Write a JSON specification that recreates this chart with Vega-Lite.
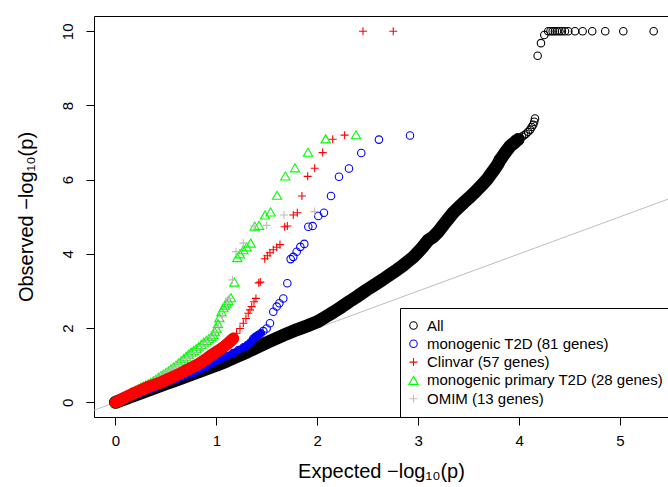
{
"$schema": "https://vega.github.io/schema/vega-lite/v6.json",
"width": 574, "height": 401,
"autosize": {"type": "none"},
"padding": {"left": 94, "top": 16, "right": 0, "bottom": 70},
"background": "white",
"data": {"values": [
{"set":"All","x":0,"y":0},{"set":"All","x":0.05,"y":0.05},{"set":"All","x":0.1,"y":0.1},{"set":"All","x":0.15,"y":0.15},{"set":"All","x":0.2,"y":0.2},{"set":"All","x":0.3,"y":0.3},{"set":"All","x":0.4,"y":0.4},{"set":"All","x":0.5,"y":0.5},{"set":"All","x":0.6,"y":0.6},{"set":"All","x":0.7,"y":0.7},{"set":"All","x":0.8,"y":0.8},{"set":"All","x":0.9,"y":0.9},{"set":"All","x":1.0,"y":1.0},{"set":"All","x":1.1,"y":1.11},{"set":"All","x":1.2,"y":1.23},{"set":"All","x":1.3,"y":1.35},{"set":"All","x":1.4,"y":1.48},{"set":"All","x":1.5,"y":1.61},{"set":"All","x":1.6,"y":1.73},{"set":"All","x":1.7,"y":1.85},{"set":"All","x":1.8,"y":1.96},{"set":"All","x":1.9,"y":2.06},{"set":"All","x":2.0,"y":2.17},{"set":"All","x":2.08,"y":2.3},{"set":"All","x":2.16,"y":2.43},{"set":"All","x":2.24,"y":2.57},{"set":"All","x":2.32,"y":2.72},{"set":"All","x":2.4,"y":2.86},{"set":"All","x":2.49,"y":3.03},{"set":"All","x":2.57,"y":3.17},{"set":"All","x":2.65,"y":3.31},{"set":"All","x":2.72,"y":3.44},{"set":"All","x":2.79,"y":3.57},{"set":"All","x":2.85,"y":3.69},{"set":"All","x":2.9,"y":3.8},{"set":"All","x":2.95,"y":3.91},{"set":"All","x":2.99,"y":4.02},{"set":"All","x":3.04,"y":4.17},{"set":"All","x":3.1,"y":4.37},{"set":"All","x":3.15,"y":4.46},{"set":"All","x":3.2,"y":4.6},{"set":"All","x":3.25,"y":4.78},{"set":"All","x":3.3,"y":4.95},{"set":"All","x":3.35,"y":5.12},{"set":"All","x":3.4,"y":5.25},{"set":"All","x":3.45,"y":5.38},{"set":"All","x":3.5,"y":5.5},{"set":"All","x":3.55,"y":5.63},{"set":"All","x":3.6,"y":5.77},{"set":"All","x":3.64,"y":5.88},{"set":"All","x":3.68,"y":6.0},{"set":"All","x":3.72,"y":6.15},{"set":"All","x":3.76,"y":6.3},{"set":"All","x":3.79,"y":6.42},{"set":"All","x":3.81,"y":6.53},{"set":"All","x":3.83,"y":6.6},{"set":"All","x":3.85,"y":6.68},{"set":"All","x":3.87,"y":6.76},{"set":"All","x":3.89,"y":6.83},{"set":"All","x":3.91,"y":6.9},{"set":"All","x":3.93,"y":6.95},{"set":"All","x":3.95,"y":6.99},{"set":"All","x":3.97,"y":7.04},{"set":"All","x":3.99,"y":7.08},{"set":"All","x":4.01,"y":7.12},{"set":"All","x":4.03,"y":7.16},{"set":"All","x":4.05,"y":7.2},{"set":"All","x":4.07,"y":7.24},{"set":"All","x":4.09,"y":7.29},{"set":"All","x":4.11,"y":7.35},{"set":"All","x":4.125,"y":7.42},{"set":"All","x":4.14,"y":7.48},{"set":"All","x":4.15,"y":7.56},{"set":"All","x":4.158,"y":7.65},
{"set":"All","x":4.184,"y":9.34},{"set":"All","x":4.217,"y":9.68},{"set":"All","x":4.25,"y":9.9},{"set":"All","x":4.289,"y":10},{"set":"All","x":4.311,"y":10},{"set":"All","x":4.333,"y":10},{"set":"All","x":4.355,"y":10},{"set":"All","x":4.376,"y":10},{"set":"All","x":4.4,"y":10},{"set":"All","x":4.425,"y":10},{"set":"All","x":4.455,"y":10},{"set":"All","x":4.488,"y":10},{"set":"All","x":4.554,"y":10},{"set":"All","x":4.63,"y":10},{"set":"All","x":4.725,"y":10},{"set":"All","x":4.854,"y":10},{"set":"All","x":5.033,"y":10},{"set":"All","x":5.334,"y":10},
{"set":"monogenic T2D (81 genes)","x":0,"y":0},{"set":"monogenic T2D (81 genes)","x":0.05,"y":0.05},{"set":"monogenic T2D (81 genes)","x":0.1,"y":0.1},{"set":"monogenic T2D (81 genes)","x":0.15,"y":0.15},{"set":"monogenic T2D (81 genes)","x":0.2,"y":0.2},{"set":"monogenic T2D (81 genes)","x":0.25,"y":0.26},{"set":"monogenic T2D (81 genes)","x":0.3,"y":0.31},{"set":"monogenic T2D (81 genes)","x":0.35,"y":0.36},{"set":"monogenic T2D (81 genes)","x":0.41,"y":0.43},{"set":"monogenic T2D (81 genes)","x":0.47,"y":0.49},{"set":"monogenic T2D (81 genes)","x":0.53,"y":0.55},{"set":"monogenic T2D (81 genes)","x":0.6,"y":0.62},{"set":"monogenic T2D (81 genes)","x":0.66,"y":0.69},{"set":"monogenic T2D (81 genes)","x":0.72,"y":0.75},{"set":"monogenic T2D (81 genes)","x":0.78,"y":0.8},{"set":"monogenic T2D (81 genes)","x":0.84,"y":0.87},{"set":"monogenic T2D (81 genes)","x":0.9,"y":0.96},{"set":"monogenic T2D (81 genes)","x":0.95,"y":1.04},{"set":"monogenic T2D (81 genes)","x":1.0,"y":1.12},{"set":"monogenic T2D (81 genes)","x":1.05,"y":1.18},{"set":"monogenic T2D (81 genes)","x":1.1,"y":1.24},{"set":"monogenic T2D (81 genes)","x":1.167,"y":1.33},{"set":"monogenic T2D (81 genes)","x":1.22,"y":1.41},{"set":"monogenic T2D (81 genes)","x":1.27,"y":1.48},{"set":"monogenic T2D (81 genes)","x":1.31,"y":1.55},{"set":"monogenic T2D (81 genes)","x":1.34,"y":1.62},{"set":"monogenic T2D (81 genes)","x":1.366,"y":1.72},{"set":"monogenic T2D (81 genes)","x":1.39,"y":1.77},{"set":"monogenic T2D (81 genes)","x":1.415,"y":1.81},{"set":"monogenic T2D (81 genes)","x":1.44,"y":1.86},{"set":"monogenic T2D (81 genes)","x":1.465,"y":1.92},{"set":"monogenic T2D (81 genes)","x":1.498,"y":1.99},{"set":"monogenic T2D (81 genes)","x":1.531,"y":2.13},{"set":"monogenic T2D (81 genes)","x":1.564,"y":2.44},{"set":"monogenic T2D (81 genes)","x":1.598,"y":2.58},{"set":"monogenic T2D (81 genes)","x":1.624,"y":2.67},{"set":"monogenic T2D (81 genes)","x":1.663,"y":2.8},{"set":"monogenic T2D (81 genes)","x":1.703,"y":3.21},{"set":"monogenic T2D (81 genes)","x":1.736,"y":3.86},{"set":"monogenic T2D (81 genes)","x":1.762,"y":3.92},{"set":"monogenic T2D (81 genes)","x":1.796,"y":4.06},{"set":"monogenic T2D (81 genes)","x":1.832,"y":4.19},{"set":"monogenic T2D (81 genes)","x":1.871,"y":4.27},{"set":"monogenic T2D (81 genes)","x":1.911,"y":4.73},{"set":"monogenic T2D (81 genes)","x":1.954,"y":4.75},{"set":"monogenic T2D (81 genes)","x":2.01,"y":5.02},{"set":"monogenic T2D (81 genes)","x":2.066,"y":5.11},{"set":"monogenic T2D (81 genes)","x":2.136,"y":5.56},{"set":"monogenic T2D (81 genes)","x":2.215,"y":6.08},{"set":"monogenic T2D (81 genes)","x":2.314,"y":6.3},{"set":"monogenic T2D (81 genes)","x":2.436,"y":6.72},{"set":"monogenic T2D (81 genes)","x":2.611,"y":7.08},{"set":"monogenic T2D (81 genes)","x":2.919,"y":7.19},
{"set":"monogenic primary T2D (28 genes)","x":0,"y":0},{"set":"monogenic primary T2D (28 genes)","x":0.025,"y":0.04},{"set":"monogenic primary T2D (28 genes)","x":0.05,"y":0.08},{"set":"monogenic primary T2D (28 genes)","x":0.075,"y":0.12},{"set":"monogenic primary T2D (28 genes)","x":0.1,"y":0.16},{"set":"monogenic primary T2D (28 genes)","x":0.125,"y":0.2},{"set":"monogenic primary T2D (28 genes)","x":0.15,"y":0.24},{"set":"monogenic primary T2D (28 genes)","x":0.175,"y":0.28},{"set":"monogenic primary T2D (28 genes)","x":0.2,"y":0.32},{"set":"monogenic primary T2D (28 genes)","x":0.225,"y":0.36},{"set":"monogenic primary T2D (28 genes)","x":0.25,"y":0.4},{"set":"monogenic primary T2D (28 genes)","x":0.275,"y":0.44},{"set":"monogenic primary T2D (28 genes)","x":0.3,"y":0.47},{"set":"monogenic primary T2D (28 genes)","x":0.325,"y":0.5},{"set":"monogenic primary T2D (28 genes)","x":0.35,"y":0.54},{"set":"monogenic primary T2D (28 genes)","x":0.375,"y":0.58},{"set":"monogenic primary T2D (28 genes)","x":0.4,"y":0.62},{"set":"monogenic primary T2D (28 genes)","x":0.425,"y":0.67},{"set":"monogenic primary T2D (28 genes)","x":0.45,"y":0.72},{"set":"monogenic primary T2D (28 genes)","x":0.475,"y":0.76},{"set":"monogenic primary T2D (28 genes)","x":0.5,"y":0.8},{"set":"monogenic primary T2D (28 genes)","x":0.525,"y":0.85},{"set":"monogenic primary T2D (28 genes)","x":0.55,"y":0.9},{"set":"monogenic primary T2D (28 genes)","x":0.575,"y":0.95},{"set":"monogenic primary T2D (28 genes)","x":0.6,"y":1.0},{"set":"monogenic primary T2D (28 genes)","x":0.625,"y":1.06},{"set":"monogenic primary T2D (28 genes)","x":0.65,"y":1.12},{"set":"monogenic primary T2D (28 genes)","x":0.675,"y":1.18},{"set":"monogenic primary T2D (28 genes)","x":0.7,"y":1.24},{"set":"monogenic primary T2D (28 genes)","x":0.725,"y":1.3},{"set":"monogenic primary T2D (28 genes)","x":0.75,"y":1.35},{"set":"monogenic primary T2D (28 genes)","x":0.775,"y":1.4},{"set":"monogenic primary T2D (28 genes)","x":0.8,"y":1.45},{"set":"monogenic primary T2D (28 genes)","x":0.825,"y":1.5},{"set":"monogenic primary T2D (28 genes)","x":0.85,"y":1.56},{"set":"monogenic primary T2D (28 genes)","x":0.875,"y":1.62},{"set":"monogenic primary T2D (28 genes)","x":0.9,"y":1.67},{"set":"monogenic primary T2D (28 genes)","x":0.925,"y":1.72},{"set":"monogenic primary T2D (28 genes)","x":0.95,"y":1.77},{"set":"monogenic primary T2D (28 genes)","x":0.97,"y":1.82},{"set":"monogenic primary T2D (28 genes)","x":0.985,"y":1.9},{"set":"monogenic primary T2D (28 genes)","x":1.0,"y":2.0},{"set":"monogenic primary T2D (28 genes)","x":1.015,"y":2.12},{"set":"monogenic primary T2D (28 genes)","x":1.03,"y":2.28},{"set":"monogenic primary T2D (28 genes)","x":1.05,"y":2.44},{"set":"monogenic primary T2D (28 genes)","x":1.07,"y":2.55},{"set":"monogenic primary T2D (28 genes)","x":1.085,"y":2.62},{"set":"monogenic primary T2D (28 genes)","x":1.1,"y":2.68},{"set":"monogenic primary T2D (28 genes)","x":1.118,"y":2.74},{"set":"monogenic primary T2D (28 genes)","x":1.145,"y":2.82},{"set":"monogenic primary T2D (28 genes)","x":1.178,"y":3.24},{"set":"monogenic primary T2D (28 genes)","x":1.207,"y":3.9},{"set":"monogenic primary T2D (28 genes)","x":1.234,"y":4.0},{"set":"monogenic primary T2D (28 genes)","x":1.267,"y":4.11},{"set":"monogenic primary T2D (28 genes)","x":1.3,"y":4.19},{"set":"monogenic primary T2D (28 genes)","x":1.34,"y":4.29},{"set":"monogenic primary T2D (28 genes)","x":1.38,"y":4.75},{"set":"monogenic primary T2D (28 genes)","x":1.422,"y":4.77},{"set":"monogenic primary T2D (28 genes)","x":1.482,"y":5.05},{"set":"monogenic primary T2D (28 genes)","x":1.538,"y":5.13},{"set":"monogenic primary T2D (28 genes)","x":1.601,"y":5.58},{"set":"monogenic primary T2D (28 genes)","x":1.683,"y":6.1},{"set":"monogenic primary T2D (28 genes)","x":1.779,"y":6.32},{"set":"monogenic primary T2D (28 genes)","x":1.908,"y":6.74},{"set":"monogenic primary T2D (28 genes)","x":2.083,"y":7.1},{"set":"monogenic primary T2D (28 genes)","x":2.384,"y":7.21},
{"set":"OMIM (13 genes)","x":0,"y":0},{"set":"OMIM (13 genes)","x":0.03,"y":0.04},{"set":"OMIM (13 genes)","x":0.06,"y":0.08},{"set":"OMIM (13 genes)","x":0.09,"y":0.12},{"set":"OMIM (13 genes)","x":0.12,"y":0.17},{"set":"OMIM (13 genes)","x":0.15,"y":0.21},{"set":"OMIM (13 genes)","x":0.18,"y":0.26},{"set":"OMIM (13 genes)","x":0.21,"y":0.3},{"set":"OMIM (13 genes)","x":0.24,"y":0.35},{"set":"OMIM (13 genes)","x":0.27,"y":0.4},{"set":"OMIM (13 genes)","x":0.3,"y":0.44},{"set":"OMIM (13 genes)","x":0.33,"y":0.49},{"set":"OMIM (13 genes)","x":0.36,"y":0.54},{"set":"OMIM (13 genes)","x":0.39,"y":0.6},{"set":"OMIM (13 genes)","x":0.42,"y":0.65},{"set":"OMIM (13 genes)","x":0.45,"y":0.7},{"set":"OMIM (13 genes)","x":0.48,"y":0.75},{"set":"OMIM (13 genes)","x":0.51,"y":0.81},{"set":"OMIM (13 genes)","x":0.54,"y":0.87},{"set":"OMIM (13 genes)","x":0.57,"y":0.92},{"set":"OMIM (13 genes)","x":0.6,"y":0.98},{"set":"OMIM (13 genes)","x":0.63,"y":1.04},{"set":"OMIM (13 genes)","x":0.66,"y":1.1},{"set":"OMIM (13 genes)","x":0.7,"y":1.17},{"set":"OMIM (13 genes)","x":0.74,"y":1.25},{"set":"OMIM (13 genes)","x":0.78,"y":1.33},{"set":"OMIM (13 genes)","x":0.82,"y":1.42},{"set":"OMIM (13 genes)","x":0.86,"y":1.52},{"set":"OMIM (13 genes)","x":0.9,"y":1.62},{"set":"OMIM (13 genes)","x":0.94,"y":1.76},{"set":"OMIM (13 genes)","x":0.98,"y":1.9},{"set":"OMIM (13 genes)","x":1.02,"y":2.05},{"set":"OMIM (13 genes)","x":1.06,"y":2.3},{"set":"OMIM (13 genes)","x":1.1,"y":2.66},{"set":"OMIM (13 genes)","x":1.125,"y":2.8},{"set":"OMIM (13 genes)","x":1.16,"y":3.3},{"set":"OMIM (13 genes)","x":1.194,"y":4.06},{"set":"OMIM (13 genes)","x":1.267,"y":4.29},{"set":"OMIM (13 genes)","x":1.373,"y":4.75},{"set":"OMIM (13 genes)","x":1.498,"y":4.77},{"set":"OMIM (13 genes)","x":1.67,"y":5.05},{"set":"OMIM (13 genes)","x":1.974,"y":5.14},
{"set":"Clinvar (57 genes)","x":0,"y":0},{"set":"Clinvar (57 genes)","x":0.03,"y":0.04},{"set":"Clinvar (57 genes)","x":0.06,"y":0.08},{"set":"Clinvar (57 genes)","x":0.1,"y":0.14},{"set":"Clinvar (57 genes)","x":0.14,"y":0.19},{"set":"Clinvar (57 genes)","x":0.176,"y":0.24},{"set":"Clinvar (57 genes)","x":0.22,"y":0.29},{"set":"Clinvar (57 genes)","x":0.26,"y":0.34},{"set":"Clinvar (57 genes)","x":0.3,"y":0.39},{"set":"Clinvar (57 genes)","x":0.35,"y":0.44},{"set":"Clinvar (57 genes)","x":0.4,"y":0.49},{"set":"Clinvar (57 genes)","x":0.45,"y":0.54},{"set":"Clinvar (57 genes)","x":0.5,"y":0.6},{"set":"Clinvar (57 genes)","x":0.55,"y":0.66},{"set":"Clinvar (57 genes)","x":0.6,"y":0.72},{"set":"Clinvar (57 genes)","x":0.65,"y":0.79},{"set":"Clinvar (57 genes)","x":0.7,"y":0.86},{"set":"Clinvar (57 genes)","x":0.75,"y":0.93},{"set":"Clinvar (57 genes)","x":0.8,"y":1.0},{"set":"Clinvar (57 genes)","x":0.84,"y":1.06},{"set":"Clinvar (57 genes)","x":0.88,"y":1.13},{"set":"Clinvar (57 genes)","x":0.92,"y":1.21},{"set":"Clinvar (57 genes)","x":0.96,"y":1.29},{"set":"Clinvar (57 genes)","x":1.0,"y":1.36},{"set":"Clinvar (57 genes)","x":1.04,"y":1.43},{"set":"Clinvar (57 genes)","x":1.08,"y":1.51},{"set":"Clinvar (57 genes)","x":1.11,"y":1.58},{"set":"Clinvar (57 genes)","x":1.14,"y":1.65},{"set":"Clinvar (57 genes)","x":1.167,"y":1.72},{"set":"Clinvar (57 genes)","x":1.2,"y":1.86},{"set":"Clinvar (57 genes)","x":1.234,"y":1.99},{"set":"Clinvar (57 genes)","x":1.267,"y":2.13},{"set":"Clinvar (57 genes)","x":1.293,"y":2.26},{"set":"Clinvar (57 genes)","x":1.316,"y":2.4},{"set":"Clinvar (57 genes)","x":1.333,"y":2.49},{"set":"Clinvar (57 genes)","x":1.35,"y":2.58},{"set":"Clinvar (57 genes)","x":1.373,"y":2.71},{"set":"Clinvar (57 genes)","x":1.392,"y":2.8},{"set":"Clinvar (57 genes)","x":1.42,"y":3.22},{"set":"Clinvar (57 genes)","x":1.435,"y":3.24},{"set":"Clinvar (57 genes)","x":1.479,"y":3.87},{"set":"Clinvar (57 genes)","x":1.505,"y":3.95},{"set":"Clinvar (57 genes)","x":1.531,"y":4.03},{"set":"Clinvar (57 genes)","x":1.564,"y":4.11},{"set":"Clinvar (57 genes)","x":1.598,"y":4.18},{"set":"Clinvar (57 genes)","x":1.63,"y":4.25},{"set":"Clinvar (57 genes)","x":1.677,"y":4.73},{"set":"Clinvar (57 genes)","x":1.703,"y":4.75},{"set":"Clinvar (57 genes)","x":1.762,"y":5.05},{"set":"Clinvar (57 genes)","x":1.802,"y":5.11},{"set":"Clinvar (57 genes)","x":1.848,"y":5.56},{"set":"Clinvar (57 genes)","x":1.905,"y":6.09},{"set":"Clinvar (57 genes)","x":1.974,"y":6.31},{"set":"Clinvar (57 genes)","x":2.053,"y":6.73},{"set":"Clinvar (57 genes)","x":2.153,"y":7.09},{"set":"Clinvar (57 genes)","x":2.271,"y":7.2},{"set":"Clinvar (57 genes)","x":2.453,"y":10},{"set":"Clinvar (57 genes)","x":2.753,"y":10}
]},
"encoding": {
  "x": {"field": "x", "type": "quantitative", "scale": {"domain": [-0.213, 5.476], "nice": false, "zero": false}, "axis": null},
  "y": {"field": "y", "type": "quantitative", "scale": {"domain": [-0.396, 10.412], "nice": false, "zero": false}, "axis": null}
},
"layer": [
  {"data": {"values": [{"x": -1, "y": -1}, {"x": 7, "y": 7}]},
   "mark": {"type": "line", "color": "#BEBEBE", "strokeWidth": 1, "clip": true},
   "encoding": {
     "x": {"field": "x", "type": "quantitative", "scale": {"domain": [-0.213, 5.476], "nice": false, "zero": false},
           "axis": {"orient": "top", "labels": false, "ticks": false, "title": null, "domain": true}}}},
  {"transform": [{"filter": "datum.set === 'All' && datum.y <= 7.1"}],
   "mark": {"type": "line", "color": "#000000", "strokeWidth": 13, "strokeCap": "round", "strokeJoin": "round"},
   "encoding": {}},
  {"transform": [{"filter": "datum.set === 'All'"}],
   "mark": {"type": "point", "filled": false, "fill": "transparent", "size": 56, "strokeWidth": 1.1, "opacity": 1},
   "encoding": {
     "x": {"field": "x", "type": "quantitative", "scale": {"domain": [-0.213, 5.476], "nice": false, "zero": false},
           "axis": {"orient": "bottom", "values": [0, 1, 2, 3, 4, 5], "labelPadding": 8, "title": "Expected  −log₁₀(p)", "titlePadding": 13, "labelFlush": false}},
     "y": {"field": "y", "type": "quantitative", "scale": {"domain": [-0.396, 10.412], "nice": false, "zero": false},
           "axis": {"orient": "left", "values": [0, 2, 4, 6, 8, 10], "labelAngle": -90, "labelAlign": "center", "labelBaseline": "bottom", "labelPadding": 11, "title": "Observed  −log₁₀(p)", "titlePadding": 24, "labelFlush": false}},
     "stroke": {"field": "set", "type": "nominal",
       "scale": {"domain": ["All", "monogenic T2D (81 genes)", "Clinvar (57 genes)", "monogenic primary T2D (28 genes)", "OMIM (13 genes)"],
                 "range": ["#000000", "#0000FF", "#FF0000", "#00FF00", "#BEBEBE"]},
       "legend": {"title": null, "orient": "none", "legendX": 306, "legendY": 292, "direction": "vertical"}},
     "shape": {"field": "set", "type": "nominal",
       "scale": {"domain": ["All", "monogenic T2D (81 genes)", "Clinvar (57 genes)", "monogenic primary T2D (28 genes)", "OMIM (13 genes)"],
                 "range": ["circle", "circle", "M-1.07,0H1.07M0,-1.07V1.07", "M0,-1.07L1.24,1.07L-1.24,1.07Z", "M-1.07,0H1.07M0,-1.07V1.07"]},
       "legend": {"title": null, "orient": "none", "legendX": 306, "legendY": 292, "direction": "vertical"}}}},
  {"transform": [{"filter": "datum.set === 'monogenic T2D (81 genes)' && datum.y <= 1.9"}],
   "mark": {"type": "line", "color": "#0000FF", "strokeWidth": 7, "strokeCap": "round", "strokeJoin": "round"},
   "encoding": {}},
  {"transform": [{"filter": "datum.set === 'monogenic T2D (81 genes)'"}],
   "mark": {"type": "point", "filled": false, "fill": "transparent", "size": 56, "strokeWidth": 1.1, "opacity": 1},
   "encoding": {"stroke": {"field": "set", "type": "nominal", "legend": {"title": null, "orient": "none", "legendX": 306, "legendY": 292, "direction": "vertical"}},
                "shape": {"field": "set", "type": "nominal", "legend": {"title": null, "orient": "none", "legendX": 306, "legendY": 292, "direction": "vertical"}}}},
  {"transform": [{"filter": "datum.set === 'monogenic primary T2D (28 genes)'"}],
   "mark": {"type": "point", "filled": false, "fill": "transparent", "size": 56, "strokeWidth": 1.1, "opacity": 1},
   "encoding": {"stroke": {"field": "set", "type": "nominal", "legend": {"title": null, "orient": "none", "legendX": 306, "legendY": 292, "direction": "vertical"}},
                "shape": {"field": "set", "type": "nominal", "legend": {"title": null, "orient": "none", "legendX": 306, "legendY": 292, "direction": "vertical"}}}},
  {"transform": [{"filter": "datum.set === 'OMIM (13 genes)'"}],
   "mark": {"type": "point", "filled": false, "fill": "transparent", "size": 56, "strokeWidth": 1.1, "opacity": 1},
   "encoding": {"stroke": {"field": "set", "type": "nominal", "legend": {"title": null, "orient": "none", "legendX": 306, "legendY": 292, "direction": "vertical"}},
                "shape": {"field": "set", "type": "nominal", "legend": {"title": null, "orient": "none", "legendX": 306, "legendY": 292, "direction": "vertical"}}}},
  {"transform": [{"filter": "datum.set === 'Clinvar (57 genes)' && datum.y <= 1.8"}],
   "mark": {"type": "line", "color": "#FF0000", "strokeWidth": 12, "strokeCap": "round", "strokeJoin": "round"},
   "encoding": {}},
  {"transform": [{"filter": "datum.set === 'Clinvar (57 genes)'"}],
   "mark": {"type": "point", "filled": false, "fill": "transparent", "size": 56, "strokeWidth": 1.1, "opacity": 1},
   "encoding": {"stroke": {"field": "set", "type": "nominal", "legend": {"title": null, "orient": "none", "legendX": 306, "legendY": 292, "direction": "vertical"}},
                "shape": {"field": "set", "type": "nominal", "legend": {"title": null, "orient": "none", "legendX": 306, "legendY": 292, "direction": "vertical"}}}}
],
"resolve": {"axis": {"x": "independent", "y": "independent"}},
"config": {
  "view": {"stroke": null},
  "font": "Liberation Sans",
  "axis": {"grid": false, "domainColor": "#000000", "tickColor": "#000000", "labelColor": "#000000", "titleColor": "#000000",
           "labelFont": "Liberation Sans", "titleFont": "Liberation Sans", "labelFontSize": 15, "titleFontSize": 20,
           "titleFontWeight": "normal", "tickSize": 8, "domainWidth": 1, "tickWidth": 1},
  "legend": {"strokeColor": "#000000", "fillColor": "#FFFFFF", "padding": 10, "labelFontSize": 15, "labelFont": "Liberation Sans",
             "labelColor": "#000000", "labelLimit": 400, "rowPadding": 2.3, "labelOffset": 6, "symbolOffset": -4, "symbolStrokeWidth": 1.1,
             "symbolSize": 56, "symbolFillColor": "transparent", "symbolOpacity": 1, "cornerRadius": 0}
}
}
